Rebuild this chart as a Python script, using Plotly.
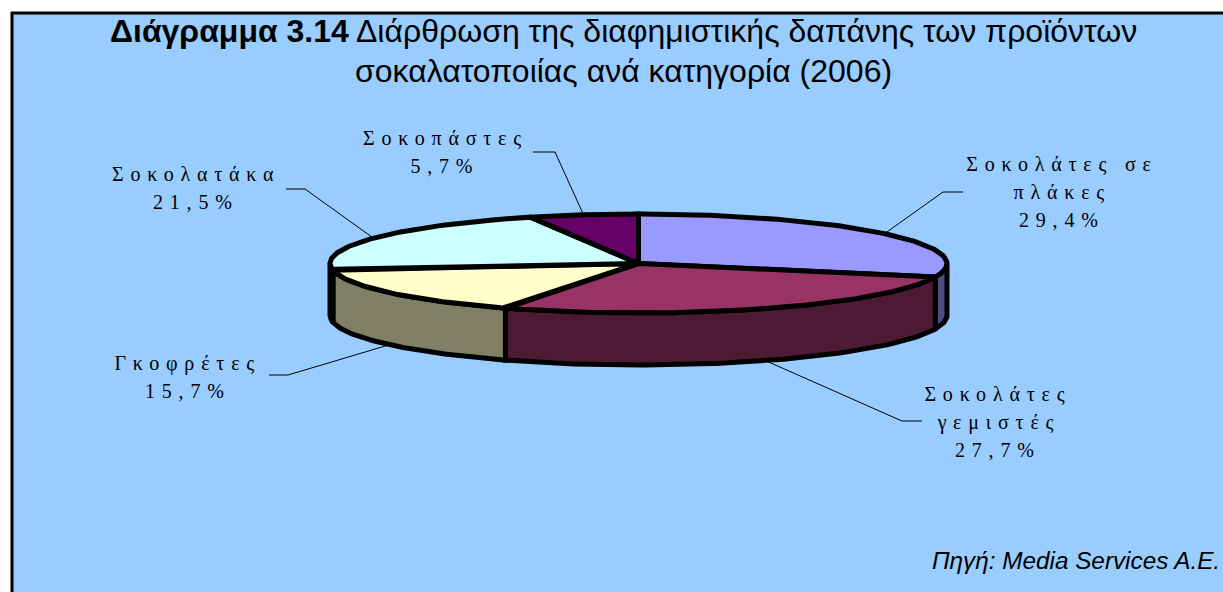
import numpy as np
import plotly.graph_objects as go

# Advertising spend shares by chocolate product category, clockwise from 12 o'clock
categories = ["Σοκολάτες σε πλάκες", "Σοκολάτες γεμιστές", "Γκοφρέτες", "Σοκολατάκα", "Σοκοπάστες"]
shares = [29.4, 27.7, 15.7, 21.5, 5.7]
label_lines = [["Σοκολάτες σε", "πλάκες"], ["Σοκολάτες", "γεμιστές"], ["Γκοφρέτες"], ["Σοκολατάκα"], ["Σοκοπάστες"]]
title_lines = ["<b>Διάγραμμα 3.14</b> Διάρθρωση της διαφημιστικής δαπάνης των προϊόντων",
               "σοκαλατοποιίας ανά κατηγορία (2006)"]
source_note = "Πηγή: Media Services A.E."

top_colors = ["#9999FF", "#993366", "#FFFFCC", "#CCFFFF", "#660066"]
side_colors = ["#4D4D80", "#4D1A33", "#808066", "#668080", "#330033"]

# Pie geometry on a pixel-sized canvas
CX, CY, RX, RY, DEPTH = 638.5, 263.5, 308.5, 49.5, 52
W, H = 1223, 592
BG = "#99CCFF"

# Label block centre x, first-line y and elbow point of each leader line
label_x = [1062, 998, 188, 196, 445]
label_y = [164, 394, 363, 174, 138]
elbow = [(943, 192), (902, 421), (288, 375), (305, 189), (555, 152)]
stub_end = [963, 922, 269, 286, 533]
LINE_GAP = 28


def rim(a_deg, b_deg, dy=0.0, n=120):
    t = np.radians(np.linspace(a_deg, b_deg, n))
    return CX + RX * np.sin(t), CY - RY * np.cos(t) + dy


fractions = np.cumsum([0] + shares) / sum(shares) * 360
fig = go.Figure()

# Leader lines start on the rim at each slice's mid-angle
for i in range(len(shares)):
    mid = (fractions[i] + fractions[i + 1]) / 2
    dy = DEPTH if 90 < mid < 270 else 0
    sx, sy = rim(mid, mid, dy, n=1)
    fig.add_trace(go.Scatter(x=[sx[0], elbow[i][0], stub_end[i]], y=[sy[0], elbow[i][1], elbow[i][1]],
                             mode="lines", line=dict(color="black", width=1),
                             hoverinfo="skip", showlegend=False))

# Front wall next, limited to the half of the rim that faces the viewer
for i in range(len(shares)):
    a, b = max(fractions[i], 90), min(fractions[i + 1], 270)
    if a >= b:
        continue
    x0, y0 = rim(a, b)
    x1, y1 = rim(b, a, DEPTH)
    fig.add_trace(go.Scatter(x=np.r_[x0, x1, x0[0]], y=np.r_[y0, y1, y0[0]], mode="lines", fill="toself",
                             fillcolor=side_colors[i], line=dict(color="black", width=5),
                             hoverinfo="skip", showlegend=False))

# Top faces
for i, name in enumerate(categories):
    x0, y0 = rim(fractions[i], fractions[i + 1])
    fig.add_trace(go.Scatter(x=np.r_[CX, x0, CX], y=np.r_[CY, y0, CY], mode="lines", fill="toself",
                             fillcolor=top_colors[i], line=dict(color="black", width=5),
                             name=name, hoverinfo="skip", showlegend=False))

annotations = []


def put(text, x, y, size, family, anchor="center", italic=False):
    annotations.append(dict(text=text, x=x, y=y, xref="x", yref="y", xanchor=anchor, yanchor="middle",
                            showarrow=False, font=dict(size=size, family=family, color="black",
                                                       style="italic" if italic else "normal")))


put(title_lines[0], 623, 31, 32, "Liberation Sans")
put(title_lines[1], 623, 71, 32, "Liberation Sans")
put(source_note, 1221.5, 560, 24.3, "Liberation Sans", anchor="right", italic=True)

for i, lines in enumerate(label_lines):
    pct = f"{shares[i]:.1f}".replace(".", ",") + "%"
    for k, line in enumerate(lines + [pct]):
        put(line, label_x[i], label_y[i] + k * LINE_GAP, 20, "Liberation Serif")

fig.update_layout(
    width=W, height=H, autosize=False, margin=dict(l=0, r=0, t=0, b=0),
    paper_bgcolor="white", plot_bgcolor="white",
    xaxis=dict(range=[0, W], visible=False, fixedrange=True),
    yaxis=dict(range=[H, 0], visible=False, fixedrange=True),
    annotations=annotations,
    shapes=[
        dict(type="rect", x0=12, x1=W, y0=13, y1=H, xref="x", yref="y", layer="below",
             fillcolor=BG, line=dict(width=0)),
        dict(type="line", x0=12, x1=12, y0=12, y1=H, xref="x", yref="y", line=dict(color="black", width=3)),
        dict(type="line", x0=11, x1=W, y0=13, y1=13, xref="x", yref="y", line=dict(color="black", width=3)),
    ],
)

# Wide tracking on the serif data labels
spacing = ("document.querySelectorAll('.annotation-text').forEach(function(t){"
           "if(t.style.fontFamily.indexOf('Serif')>=0){t.style.letterSpacing='6.8px';}});")
fig.write_html("out.html", post_script=spacing, config={"displayModeBar": False})
